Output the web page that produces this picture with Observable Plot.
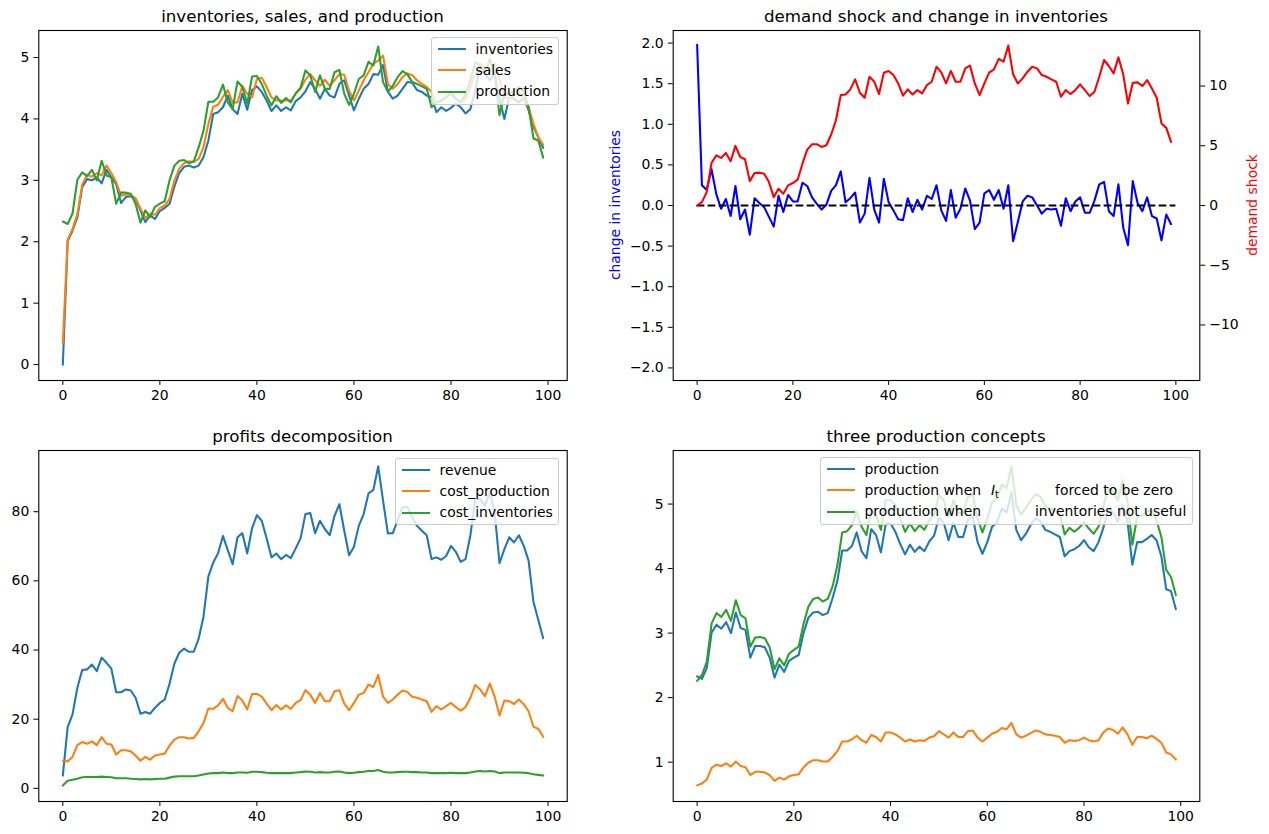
<!DOCTYPE html>
<html><head><meta charset="utf-8">
<script src="https://cdn.jsdelivr.net/npm/d3@7"></script>
<script src="https://cdn.jsdelivr.net/npm/@observablehq/plot@0.6"></script>
<style>
body{margin:0;background:#fff;font-family:"DejaVu Sans",sans-serif;}
#fig{position:relative;width:1269px;height:834px;overflow:hidden;background:#fff;}
#fig svg{position:absolute;left:0;top:0;}
.title{position:absolute;font-size:16.67px;line-height:17px;text-align:center;white-space:nowrap;color:#000;}
.ylab{position:absolute;font-size:13.9px;line-height:16px;white-space:nowrap;transform:translate(-50%,-50%) rotate(-90deg);}
.legend{position:absolute;background:rgba(255,255,255,0.8);border:1px solid #cccccc;border-radius:3px;box-sizing:border-box;font-size:13.9px;color:#000;}
.legend .h{position:absolute;height:2px;width:28px;left:6px;}
.legend .t{position:absolute;line-height:16px;white-space:nowrap;}
</style>
</head><body>
<div id="fig"></div>
<script>
// ---------------- data ----------------
const inventories = [0.0,2.01,2.18,2.40,2.89,3.02,3.00,3.05,2.95,3.17,3.05,2.94,2.63,2.73,2.74,2.70,2.51,2.32,2.43,2.37,2.50,2.55,2.62,2.90,3.12,3.22,3.24,3.21,3.24,3.38,3.65,4.08,4.11,4.19,4.38,4.16,4.08,4.41,4.15,4.47,4.53,4.44,4.30,4.13,4.22,4.13,4.19,4.14,4.29,4.35,4.45,
4.60,4.49,4.33,4.49,4.38,4.35,4.57,4.63,4.38,4.14,4.33,4.49,4.57,4.73,4.72,4.88,4.44,4.33,4.38,4.49,4.60,4.59,4.47,4.44,4.38,4.35,4.11,4.19,4.13,4.18,4.25,4.19,4.09,4.16,4.46,4.87,4.73,4.63,4.73,4.33,4.00,4.35,4.33,4.27,4.35,4.14,3.87,3.70,3.53];
const sales = [0.35,2.03,2.21,2.45,2.93,3.09,3.06,3.12,3.08,3.24,3.12,2.97,2.75,2.77,2.76,2.71,2.54,2.39,2.45,2.44,2.55,2.59,2.70,3.00,3.19,3.28,3.31,3.30,3.35,3.54,3.92,4.20,4.23,4.36,4.47,4.27,4.27,4.54,4.41,4.35,4.65,4.67,4.52,4.35,4.30,4.30,4.30,4.30,4.41,4.49,4.64,
4.73,4.63,4.54,4.64,4.54,4.63,4.73,4.72,4.46,4.30,4.46,4.63,4.76,4.90,4.95,5.03,4.57,4.49,4.57,4.68,4.74,4.71,4.63,4.57,4.52,4.44,4.27,4.30,4.35,4.41,4.33,4.27,4.33,4.52,4.73,4.90,4.82,4.82,4.90,4.65,4.35,4.33,4.38,4.44,4.30,4.19,3.92,3.70,3.58];
const production = [2.33,2.29,2.46,3.01,3.13,3.07,3.17,3.00,3.32,3.08,3.05,2.62,2.80,2.80,2.78,2.62,2.31,2.51,2.40,2.57,2.62,2.66,3.00,3.24,3.32,3.33,3.28,3.31,3.54,3.81,4.28,4.28,4.35,4.56,4.27,4.16,4.61,4.52,4.25,4.69,4.70,4.57,4.38,4.22,4.37,4.26,4.34,4.27,4.42,4.51,4.79,
4.71,4.44,4.71,4.49,4.49,4.76,4.80,4.41,4.23,4.41,4.65,4.71,4.93,4.87,5.18,4.60,4.44,4.54,4.68,4.78,4.73,4.60,4.57,4.53,4.49,4.19,4.27,4.30,4.35,4.44,4.33,4.27,4.41,4.63,4.92,4.87,4.73,4.98,4.73,4.06,4.41,4.41,4.46,4.52,4.44,4.19,3.68,3.65,3.37];
const changeInventories = [1.98,0.25,0.19,0.45,0.14,-0.04,0.08,-0.13,0.24,-0.17,-0.05,-0.36,0.09,0.03,-0.02,-0.14,-0.26,0.12,-0.08,0.13,0.05,0.05,0.28,0.24,0.10,0.02,-0.05,0.01,0.18,0.25,0.42,0.04,0.09,0.16,-0.21,-0.10,0.34,-0.05,-0.21,0.33,0.04,-0.06,-0.17,-0.18,0.09,-0.08,0.07,-0.05,0.12,0.08,0.25,
-0.06,-0.19,0.19,-0.15,-0.04,0.21,0.06,-0.29,-0.21,0.15,0.19,0.07,0.19,-0.04,0.25,-0.44,-0.20,0.05,0.12,0.10,0.00,-0.10,-0.04,-0.05,-0.04,-0.25,0.09,-0.07,0.05,0.10,-0.09,-0.09,0.06,0.26,0.29,-0.07,-0.13,0.26,-0.27,-0.49,0.30,0.03,-0.07,0.10,-0.13,-0.16,-0.43,-0.11,-0.23];
const demandShock = [0,0.28,1.12,3.56,4.20,3.98,4.40,3.70,4.99,4.06,3.87,2.04,2.72,2.75,2.66,1.96,0.70,1.40,0.98,1.68,1.88,2.16,3.50,4.68,5.13,5.13,4.90,5.04,5.94,7.14,9.24,9.30,9.72,10.56,9.44,9.02,10.78,10.36,9.33,11.12,11.26,10.92,10.22,9.19,9.72,9.30,9.66,9.38,10.08,10.36,11.62,
11.15,10.22,11.26,10.36,10.36,11.48,11.71,10.22,9.24,10.22,11.12,11.40,12.27,12.04,13.39,10.98,10.22,10.64,11.20,11.62,11.48,10.92,10.78,10.56,10.36,9.10,9.66,9.33,9.66,10.14,9.66,9.16,9.52,10.78,12.18,11.68,11.06,12.41,10.98,8.54,10.28,10.31,10.00,10.50,9.80,9.02,6.86,6.50,5.32];
const zeroLineX = [0, 100];
const revenue = [3.7,17.7,21.4,29.1,34.2,34.4,35.8,33.9,37.8,36.3,34.6,27.8,27.8,28.6,28.3,26.2,21.6,22.1,21.6,23.3,24.7,25.7,30.3,36.1,39.2,40.4,39.5,39.5,43.3,49.7,61.3,65.3,68.0,73.0,68.9,64.8,72.6,73.8,67.9,75.2,79.0,77.4,72.3,66.8,67.9,66.3,67.5,66.6,69.4,72.3,79.3,
79.6,73.8,77.4,75.0,73.2,78.8,82.2,74.5,67.4,69.9,75.9,79.3,85.3,86.3,93.1,83.2,73.7,73.8,77.4,81.3,81.4,78.4,75.9,74.5,73.2,66.3,66.8,66.1,67.2,70.1,68.4,65.5,66.3,73.2,83.7,83.7,81.7,85.6,79.8,65.1,69.2,72.6,71.1,73.2,70.1,65.8,53.9,48.7,43.4];
const costProduction = [8.0,7.8,9.1,12.5,13.4,12.9,13.6,12.5,14.8,12.9,12.7,9.8,11.0,11.0,10.7,9.5,8.0,9.1,8.3,9.5,9.8,10.0,12.4,14.1,14.8,14.8,14.4,14.6,16.5,18.9,23.1,23.0,24.0,25.9,23.3,22.3,26.7,25.4,22.8,27.3,27.3,26.5,24.5,22.6,24.1,22.8,24.0,23.0,24.7,25.5,28.4,
27.1,24.7,27.6,25.2,25.2,28.1,28.4,24.5,22.6,24.7,27.1,27.6,30.0,29.3,32.8,26.5,24.7,25.7,27.1,28.3,27.9,26.5,26.2,25.7,25.2,22.1,23.8,22.8,23.8,24.7,23.5,22.5,23.5,26.2,29.9,28.6,26.7,30.3,26.5,21.1,25.4,25.2,24.4,25.7,24.3,22.3,17.8,17.2,14.9];
const costInventories = [0.8,2.2,2.5,2.8,3.2,3.3,3.3,3.3,3.4,3.3,3.2,2.9,2.9,2.9,2.8,2.7,2.6,2.7,2.6,2.7,2.8,2.8,3.1,3.4,3.5,3.5,3.5,3.5,3.7,4.0,4.3,4.4,4.4,4.6,4.4,4.4,4.6,4.6,4.5,4.8,4.8,4.7,4.5,4.4,4.4,4.4,4.4,4.4,4.6,4.7,4.9,
4.8,4.6,4.7,4.6,4.6,4.8,4.9,4.6,4.4,4.5,4.7,4.8,5.0,5.0,5.3,4.8,4.6,4.6,4.7,4.8,4.8,4.7,4.7,4.6,4.6,4.4,4.4,4.4,4.4,4.5,4.4,4.4,4.4,4.6,4.9,5.0,4.9,5.0,4.9,4.4,4.6,4.6,4.6,4.6,4.5,4.4,4.1,3.9,3.7];
const productionZeroInv = [0.64,0.67,0.73,0.91,0.96,0.94,0.98,0.93,1.01,0.94,0.92,0.80,0.85,0.85,0.84,0.80,0.71,0.76,0.73,0.78,0.80,0.81,0.92,0.99,1.03,1.03,1.01,1.01,1.08,1.17,1.32,1.32,1.35,1.41,1.34,1.30,1.42,1.39,1.32,1.46,1.46,1.43,1.38,1.32,1.35,1.32,1.34,1.33,1.38,1.40,1.48,
1.43,1.38,1.46,1.39,1.39,1.48,1.49,1.38,1.32,1.38,1.44,1.47,1.53,1.51,1.61,1.43,1.38,1.41,1.45,1.49,1.47,1.43,1.42,1.41,1.39,1.30,1.34,1.33,1.34,1.38,1.34,1.32,1.34,1.46,1.52,1.50,1.44,1.54,1.43,1.27,1.39,1.39,1.37,1.41,1.36,1.30,1.15,1.12,1.04];
const productionNoInvUse = [2.26,2.35,2.56,3.15,3.31,3.25,3.36,3.19,3.51,3.28,3.23,2.79,2.93,2.94,2.92,2.78,2.44,2.61,2.50,2.68,2.74,2.79,3.14,3.41,3.53,3.55,3.49,3.53,3.72,4.05,4.56,4.58,4.67,4.88,4.65,4.52,4.91,4.83,4.60,5.06,5.06,4.98,4.78,4.57,4.70,4.58,4.67,4.60,4.75,4.83,5.14,
5.06,4.80,5.06,4.86,4.86,5.11,5.15,4.77,4.56,4.77,5.03,5.09,5.30,5.25,5.58,4.98,4.84,4.94,5.06,5.15,5.11,4.97,4.93,4.89,4.86,4.53,4.63,4.57,4.63,4.72,4.62,4.54,4.65,4.96,5.25,5.19,5.06,5.37,5.04,4.37,4.80,4.83,4.88,4.91,4.75,4.49,3.98,3.87,3.59];

const xTicks = [0, 20, 40, 60, 80, 100];
const yTicks1 = [0, 1, 2, 3, 4, 5];
const yTicks2L = [-2, -1.5, -1, -0.5, 0, 0.5, 1, 1.5, 2];
const yTicks2R = [-10, -5, 0, 5, 10];
const yTicks3 = [0, 20, 40, 60, 80];
const yTicks4 = [1, 2, 3, 4, 5];

// ---------------- drawing ----------------
const W = 1269, H = 834;
const fig = document.getElementById("fig");
const C = {blue: "#1f77b4", orange: "#ff7f0e", green: "#2ca02c"};
const LW = 2.08;
const TS = 4.9, TP = 4.6;

function panel(frame, xDomain, yDomain, marks, xAxisNull) {
  const [x0, x1, y0, y1] = frame;
  const svg = Plot.plot({
    width: W, height: H,
    marginLeft: x0, marginRight: W - x1, marginTop: y0, marginBottom: H - y1,
    x: {type: "linear", domain: xDomain, axis: xAxisNull ? null : undefined},
    y: {type: "linear", domain: yDomain},
    style: {background: "transparent", fontFamily: "'DejaVu Sans', sans-serif", fontSize: "13.9px", color: "black", overflow: "visible"},
    marks
  });
  svg.style.position = "absolute"; svg.style.left = "0px"; svg.style.top = "0px";
  svg.style.maxWidth = "none";
  fig.appendChild(svg);
}
const ax = () => Plot.axisX({ticks: xTicks, tickSize: TS, tickPadding: TP, label: null, tickFormat: d3.format("d")});
const ay = (ticks, fmt, anchor) => Plot.axisY({ticks, anchor: anchor || "left", tickSize: TS, tickPadding: TP, label: null, tickFormat: fmt || d3.format("d")});
const fr = () => Plot.frame({stroke: "black", strokeWidth: 1.1});

const F1 = [38.3, 566.7, 30, 380], F2 = [672.7, 1199.3, 30, 380];
const F3 = [38.3, 566.7, 450, 801], F4 = [672.7, 1199.3, 450, 801];
const XD = [-4.95, 103.95];

// panel 1
panel(F1, XD, [-0.259, 5.44], [
  Plot.lineY(inventories, {stroke: C.blue, strokeWidth: LW}),
  Plot.lineY(sales, {stroke: C.orange, strokeWidth: LW}),
  Plot.lineY(production, {stroke: C.green, strokeWidth: LW}),
  ax(), ay(yTicks1), fr()
]);
// panel 2 (left axis)
panel(F2, [-5, 105], [-2.155, 2.155], [
  Plot.lineY(changeInventories, {stroke: "#0000ff", strokeWidth: LW}),
  Plot.ruleY([0], {x1: zeroLineX[0], x2: zeroLineX[1], stroke: "black", strokeWidth: LW, strokeDasharray: "7.7,3.3"}),
  ax(), ay(yTicks2L, d3.format(".1f")), fr()
]);
// panel 2 (right axis, twin)
panel(F2, [-5, 105], [-14.65, 14.65], [
  Plot.lineY(demandShock, {stroke: "#ff0000", strokeWidth: LW}),
  ay(yTicks2R, d3.format("d"), "right")
], true);
// panel 3
panel(F3, XD, [-3.8, 97.7], [
  Plot.lineY(revenue, {stroke: C.blue, strokeWidth: LW}),
  Plot.lineY(costProduction, {stroke: C.orange, strokeWidth: LW}),
  Plot.lineY(costInventories, {stroke: C.green, strokeWidth: LW}),
  ax(), ay(yTicks3), fr()
]);
// panel 4
panel(F4, XD, [0.39, 5.83], [
  Plot.lineY(production, {stroke: C.blue, strokeWidth: LW}),
  Plot.lineY(productionZeroInv, {stroke: C.orange, strokeWidth: LW}),
  Plot.lineY(productionNoInvUse, {stroke: C.green, strokeWidth: LW}),
  ax(), ay(yTicks4), fr()
]);

// titles
function title(text, frame, top) {
  const d = document.createElement("div");
  d.className = "title"; d.textContent = text;
  d.style.left = frame[0] + "px"; d.style.width = (frame[1] - frame[0]) + "px"; d.style.top = top + "px";
  fig.appendChild(d);
}
title("inventories, sales, and production", F1, 8.4);
title("demand shock and change in inventories", F2, 8.4);
title("profits decomposition", F3, 428.4);
title("three production concepts", F4, 428.4);

// y labels
function ylab(text, x, y, color) {
  const d = document.createElement("div");
  d.className = "ylab"; d.textContent = text;
  d.style.left = x + "px"; d.style.top = y + "px"; d.style.color = color;
  fig.appendChild(d);
}
ylab("change in inventories", 615, 205, "#0000ff");
ylab("demand shock", 1252, 205, "#ff0000");

// legends
function legend(box, rows) {
  const [l, t, w, h] = box;
  const d = document.createElement("div");
  d.className = "legend";
  d.style.left = l + "px"; d.style.top = t + "px"; d.style.width = w + "px"; d.style.height = h + "px";
  rows.forEach(r => {
    const hnd = document.createElement("div");
    hnd.className = "h"; hnd.style.background = r.color; hnd.style.top = Math.round(r.y - 1) + "px";
    d.appendChild(hnd);
    r.parts.forEach(p => {
      const s = document.createElement("div");
      s.className = "t"; s.innerHTML = p.html; s.style.left = p.x + "px"; s.style.top = (r.y - 8.5) + "px";
      d.appendChild(s);
    });
  });
  fig.appendChild(d);
}
const rowsY = [11.2, 32.2, 53.6];
legend([431, 37, 128, 68], [
  {color: C.blue, y: rowsY[0], parts: [{x: 43.5, html: "inventories"}]},
  {color: C.orange, y: rowsY[1], parts: [{x: 43.5, html: "sales"}]},
  {color: C.green, y: rowsY[2], parts: [{x: 43.5, html: "production"}]}
]);
legend([395, 458, 164, 67], [
  {color: C.blue, y: rowsY[0], parts: [{x: 43.5, html: "revenue"}]},
  {color: C.orange, y: rowsY[1], parts: [{x: 43.5, html: "cost_production"}]},
  {color: C.green, y: rowsY[2], parts: [{x: 43.5, html: "cost_inventories"}]}
]);
legend([820, 457, 373, 68], [
  {color: C.blue, y: rowsY[0], parts: [{x: 43.5, html: "production"}]},
  {color: C.orange, y: rowsY[1], parts: [
    {x: 43.5, html: "production when"},
    {x: 170, html: "<span style=\"font-style:italic\">I</span><span style=\"font-size:9.7px;position:relative;top:3px;\">t</span>"},
    {x: 234, html: "forced to be zero"}]},
  {color: C.green, y: rowsY[2], parts: [
    {x: 43.5, html: "production when"},
    {x: 214, html: "inventories not useful"}]}
]);
</script>
</body></html>
